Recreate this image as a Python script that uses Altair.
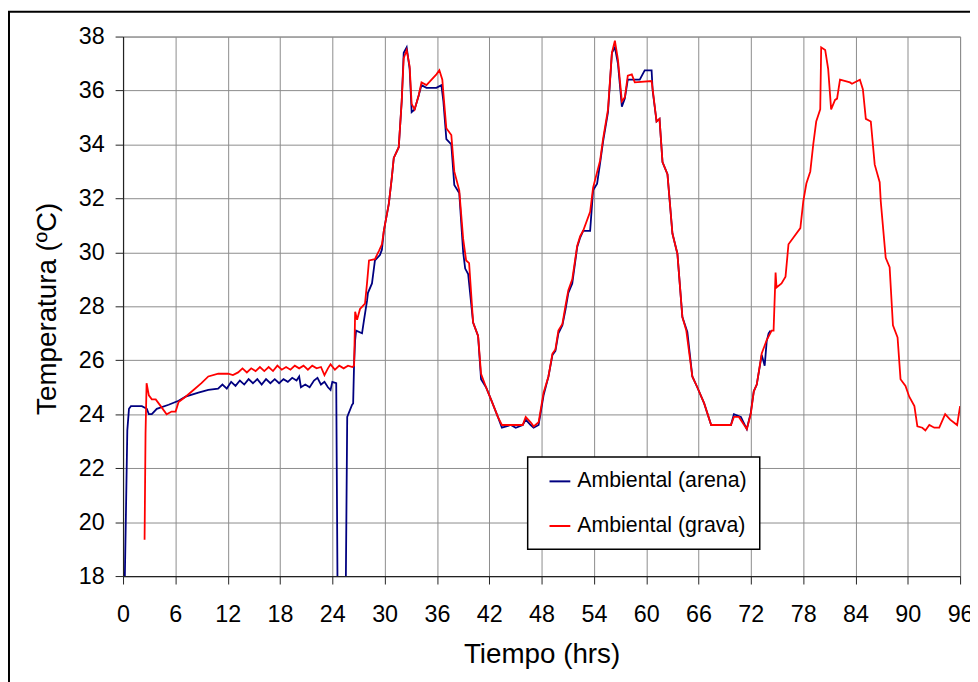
import altair as alt
import pandas as pd

# Ambiental (arena): (tiempo h, temperatura ºC)
arena = [
    (0.05, 15.0), (0.31, 19.9), (0.49, 23.4), (0.68, 24.2), (0.91, 24.3), (2.16, 24.3), (2.73, 24.2),
    (2.96, 24.0), (3.30, 24.0), (3.87, 24.2), (5.23, 24.35), (6.37, 24.5), (7.17, 24.65), (8.64, 24.8),
    (9.78, 24.9), (10.9, 24.95), (11.4, 25.1), (11.9, 24.95), (12.4, 25.2), (12.9, 25.05), (13.4, 25.25),
    (13.9, 25.1), (14.4, 25.3), (14.9, 25.15), (15.4, 25.3), (15.9, 25.1), (16.4, 25.3), (16.9, 25.15),
    (17.4, 25.3), (17.9, 25.15), (18.4, 25.3), (18.9, 25.2), (19.4, 25.35), (19.9, 25.25), (20.2, 25.4),
    (20.4, 25.0), (20.9, 25.1), (21.4, 25.0), (21.9, 25.25), (22.3, 25.35), (22.7, 25.1), (23.1, 25.2),
    (23.5, 25.0), (23.8, 24.9), (24.0, 25.2), (24.45, 25.15), (24.65, 15.0), (25.48, 15.0), (25.71, 23.9),
    (26.27, 24.35), (26.39, 24.4), (26.50, 25.9), (26.62, 26.75), (26.73, 27.1), (27.41, 27.0),
    (27.64, 27.5), (27.98, 28.2), (28.09, 28.5), (28.55, 28.85), (28.89, 29.7), (29.46, 29.9),
    (29.69, 30.1), (29.91, 30.8), (30.48, 31.8), (30.82, 32.75), (31.05, 33.5), (31.62, 33.9),
    (31.96, 35.6), (32.19, 37.4), (32.53, 37.6), (32.87, 36.8), (33.10, 35.2), (33.44, 35.3),
    (33.89, 35.8), (34.23, 36.2), (34.80, 36.1), (35.94, 36.1), (36.51, 36.2), (36.74, 35.6),
    (37.08, 34.2), (37.65, 34.0), (37.99, 32.5), (38.56, 32.2), (39.01, 30.0), (39.24, 29.4),
    (39.58, 29.2), (40.15, 27.4), (40.72, 26.9), (41.06, 25.3), (41.63, 25.0), (42.20, 24.55),
    (42.99, 23.9), (43.45, 23.5), (44.47, 23.6), (45.04, 23.5), (45.84, 23.6), (46.18, 23.8),
    (46.75, 23.6), (47.09, 23.5), (47.66, 23.6), (48.23, 24.7), (48.79, 25.4), (49.25, 26.2),
    (49.59, 26.35), (49.93, 27.0), (50.39, 27.3), (50.73, 27.85), (51.07, 28.5), (51.52, 28.85),
    (52.09, 30.2), (52.43, 30.55), (52.77, 30.8), (53.57, 30.8), (53.91, 32.3), (54.37, 32.55),
    (54.71, 33.3), (55.05, 34.1), (55.62, 35.2), (56.07, 37.4), (56.41, 37.6), (56.76, 37.0),
    (57.21, 35.4), (57.55, 35.7), (57.89, 36.4), (58.35, 36.4), (59.26, 36.4), (59.83, 36.75),
    (60.62, 36.75), (60.74, 36.0), (61.19, 34.85), (61.53, 34.95), (61.87, 33.35), (62.44, 32.9),
    (63.01, 30.7), (63.58, 29.95), (64.15, 27.6), (64.72, 27.05), (65.29, 25.4), (65.86, 25.0),
    (66.65, 24.4), (67.45, 23.6), (69.72, 23.6), (70.06, 24.0), (70.86, 23.9), (71.54, 23.45),
    (71.99, 24.05), (72.34, 24.85), (72.68, 25.1), (73.25, 26.2), (73.59, 25.8), (73.82, 26.7),
    (74.04, 27.0), (74.27, 27.1),
]

# Ambiental (grava): (tiempo h, temperatura ºC)
grava = [
    (2.47, 19.35), (2.58, 23.3), (2.70, 25.15), (2.96, 24.7), (3.30, 24.55), (3.75, 24.55), (4.32, 24.3),
    (5.00, 24.0), (5.57, 24.1), (6.03, 24.1), (6.37, 24.45), (7.17, 24.65), (8.08, 24.9), (8.99, 25.15),
    (9.78, 25.4), (10.92, 25.5), (12.06, 25.5), (12.6, 25.45), (13.2, 25.55), (13.7, 25.7), (14.2, 25.55),
    (14.7, 25.7), (15.2, 25.6), (15.7, 25.75), (16.2, 25.6), (16.7, 25.75), (17.2, 25.6), (17.7, 25.8),
    (18.2, 25.65), (18.7, 25.75), (19.2, 25.65), (19.7, 25.8), (20.2, 25.7), (20.7, 25.8), (21.2, 25.65),
    (21.7, 25.8), (22.2, 25.7), (22.7, 25.75), (23.1, 25.45), (23.5, 25.7), (23.8, 25.85), (24.3, 25.65),
    (24.8, 25.8), (25.3, 25.7), (25.8, 25.8), (26.3, 25.75), (26.5, 25.8), (26.62, 27.8), (26.84, 27.5),
    (27.18, 27.9), (27.75, 28.1), (27.98, 28.85), (28.21, 29.7), (28.89, 29.75), (29.34, 30.05),
    (29.69, 30.3), (29.91, 30.8), (30.48, 31.8), (30.82, 32.75), (31.05, 33.5), (31.62, 33.9),
    (31.96, 35.6), (32.19, 37.2), (32.53, 37.5), (32.87, 36.9), (33.10, 35.5), (33.44, 35.3),
    (33.89, 35.8), (34.23, 36.3), (34.80, 36.2), (35.94, 36.6), (36.28, 36.75), (36.62, 36.4),
    (36.74, 35.9), (37.08, 34.6), (37.65, 34.35), (37.99, 33.0), (38.56, 32.3), (39.01, 30.5),
    (39.35, 29.7), (39.69, 29.6), (40.15, 27.4), (40.72, 26.9), (41.06, 25.5), (41.63, 25.0),
    (42.20, 24.55), (42.99, 23.9), (43.45, 23.6), (45.84, 23.6), (46.18, 23.9), (46.75, 23.7),
    (47.09, 23.55), (47.66, 23.7), (48.23, 24.8), (48.79, 25.4), (49.25, 26.25), (49.59, 26.4),
    (49.93, 27.1), (50.39, 27.35), (50.73, 28.0), (51.07, 28.6), (51.52, 29.0), (52.09, 30.25),
    (52.43, 30.6), (52.77, 30.8), (53.57, 31.5), (53.91, 32.4), (54.71, 33.4), (55.05, 34.2),
    (55.62, 35.3), (56.07, 37.4), (56.41, 37.85), (56.76, 37.15), (57.21, 35.6), (57.55, 35.75),
    (57.89, 36.55), (58.35, 36.6), (58.69, 36.3), (60.62, 36.35), (60.74, 36.05), (61.19, 34.85),
    (61.53, 34.95), (61.87, 33.35), (62.44, 32.9), (63.01, 30.7), (63.58, 29.95), (64.15, 27.6),
    (64.60, 27.1), (65.29, 25.4), (65.86, 25.0), (66.65, 24.4), (67.45, 23.6), (69.72, 23.6),
    (70.06, 23.9), (70.63, 23.9), (71.54, 23.45), (71.99, 24.0), (72.34, 24.85), (72.68, 25.1),
    (73.25, 26.25), (73.82, 26.75), (74.39, 27.1), (74.61, 27.1), (74.84, 29.25), (74.95, 28.7),
    (75.52, 28.85), (75.98, 29.1), (76.32, 30.3), (76.89, 30.55), (77.68, 30.9), (78.02, 31.9),
    (78.37, 32.55), (78.82, 33.0), (79.16, 34.0), (79.50, 34.85), (79.96, 35.3), (80.07, 37.6),
    (80.53, 37.5), (80.87, 36.8), (81.21, 35.3), (81.66, 35.65), (81.89, 35.7), (82.23, 36.4),
    (83.37, 36.3), (83.60, 36.25), (84.51, 36.4), (84.85, 36.05), (85.19, 34.95), (85.76, 34.85),
    (86.21, 33.25), (86.78, 32.6), (86.90, 31.9), (87.47, 29.8), (87.92, 29.45), (88.3, 27.3),
    (88.83, 26.85), (89.17, 25.3), (89.74, 25.05), (90.17, 24.65), (90.76, 24.3), (91.10, 23.55),
    (91.67, 23.5), (92.02, 23.4), (92.47, 23.6), (93.04, 23.5), (93.61, 23.5), (94.29, 24.0),
    (94.86, 23.8), (95.66, 23.6), (96.00, 24.3),
]

series_names = ["Ambiental (arena)", "Ambiental (grava)"]
series_colors = ["#000080", "#FF0000"]
x_ticks = list(range(0, 97, 6))
y_ticks = list(range(18, 39, 2))

rows = []
for name, pts in zip(series_names, [arena, grava]):
    for t, v in pts:
        rows.append({"serie": name, "t": t, "temp": v})
df = pd.DataFrame(rows)

FONT = "Liberation Sans"

lines = alt.Chart(df).mark_line(strokeWidth=1.8, clip=True).encode(
    x=alt.X("t:Q", scale=alt.Scale(domain=[0, 96], nice=False),
            axis=alt.Axis(values=x_ticks, title="Tiempo (hrs)", labelFontSize=23.5, labelPadding=19,
                          tickSize=8, titleFontSize=28, titleBaseline="alphabetic", titleY=87,
                          labelFlush=False)),
    y=alt.Y("temp:Q", scale=alt.Scale(domain=[18, 38], nice=False, zero=False),
            axis=alt.Axis(values=y_ticks, title="Temperatura (ºC)", labelFontSize=23.5, labelPadding=11,
                          tickSize=8, titleFontSize=28, titleBaseline="alphabetic", titleX=-68,
                          titleY=274)),
    color=alt.Color("serie:N", scale=alt.Scale(domain=series_names, range=series_colors),
                    legend=alt.Legend(title=None, orient="none", legendX=408, legendY=424,
                                      symbolType="stroke", symbolSize=441, symbolStrokeWidth=2,
                                      symbolOffset=8, labelFontSize=21.5, labelOffset=6,
                                      labelLimit=400, rowPadding=23, padding=13,
                                      strokeColor="black", fillColor="white")),
    order=alt.Order("t:Q"),
)

border = alt.Chart(pd.DataFrame({"b": [0]})).mark_rect(
    fill="transparent", stroke="black", strokeWidth=2
).encode(x=alt.value(-115), x2=alt.value(1000), y=alt.value(-25), y2=alt.value(720))

chart = alt.layer(border, lines).properties(
    width=844, height=544,
    autosize=alt.AutoSizeParams(type="none"),
    padding={"left": 116, "top": 26, "right": 10, "bottom": 104},
    background="white",
).configure_axis(
    labelFont=FONT, titleFont=FONT, titleFontWeight="normal", labelColor="black", titleColor="black",
    gridColor="#8c8c8c", gridWidth=1, domainColor="#222222", tickColor="#222222", domainWidth=1.2,
).configure_legend(
    labelFont=FONT, labelColor="black", strokeWidth=1.5,
).configure_view(stroke="#8c8c8c")

chart.save("out.html", embed_options={"renderer": "svg", "actions": False})
